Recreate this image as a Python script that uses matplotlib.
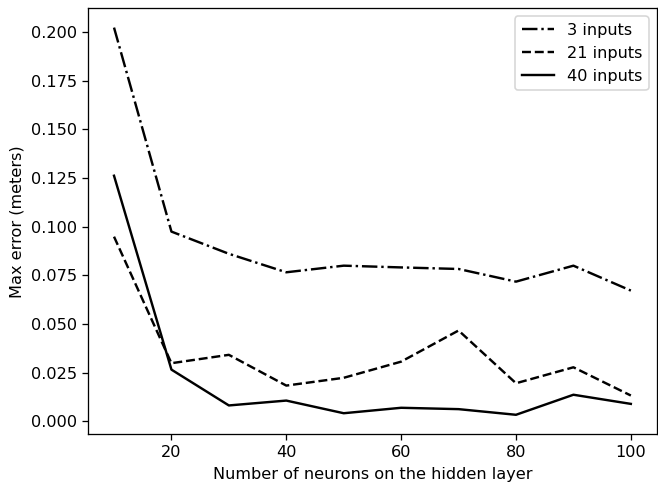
import matplotlib
matplotlib.use("Agg")
import matplotlib.pyplot as plt

neurons = [10, 20, 30, 40, 50, 60, 70, 80, 90, 100]
err_3 = [0.2022, 0.0974, 0.0860, 0.0765, 0.0799, 0.0790, 0.0782, 0.0717, 0.0799, 0.0671]
err_21 = [0.0948, 0.0298, 0.0341, 0.0183, 0.0223, 0.0306, 0.0466, 0.0195, 0.0277, 0.0132]
err_40 = [0.1261, 0.0265, 0.0081, 0.0106, 0.0041, 0.0069, 0.0062, 0.0033, 0.0136, 0.0089]

dpi = 116
fig = plt.figure(figsize=(658 / dpi, 484 / dpi), dpi=dpi)
ax = fig.add_subplot(1, 1, 1)
fig.subplots_adjust(left=0.134, right=0.998, top=0.983, bottom=0.103)

ax.plot(neurons, err_3, color='black', linestyle='-.', label='3 inputs')
ax.plot(neurons, err_21, color='black', linestyle='--', label='21 inputs')
ax.plot(neurons, err_40, color='black', linestyle='-', label='40 inputs')

ax.set_xlabel('Number of neurons on the hidden layer')
ax.set_ylabel('Max error (meters)')
ax.legend(loc='upper right')

fig.savefig('out.png', dpi=dpi)
